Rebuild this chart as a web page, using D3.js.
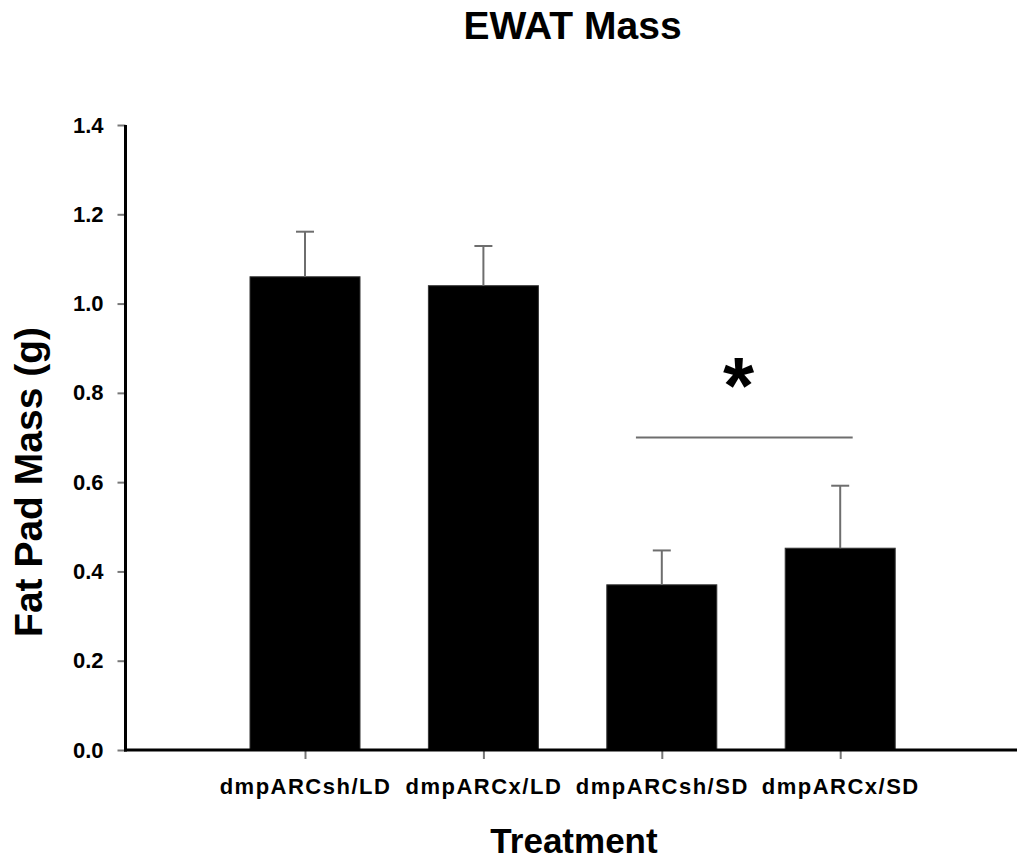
<!DOCTYPE html>
<html>
<head>
<meta charset="utf-8">
<script src="https://cdn.jsdelivr.net/npm/d3@7"></script>
<style>
  html, body { margin: 0; padding: 0; background: #fff; }
  svg { display: block; }
  text { font-family: "Liberation Sans", Arial, sans-serif; font-weight: bold; fill: #000; }
</style>
</head>
<body>
<script>
// ---- data ----
const categories = ["dmpARCsh/LD", "dmpARCx/LD", "dmpARCsh/SD", "dmpARCx/SD"];
const means = [1.06, 1.04, 0.37, 0.452];
const errors = [0.101, 0.089, 0.077, 0.140];
const yTicks = [0.0, 0.2, 0.4, 0.6, 0.8, 1.0, 1.2, 1.4];
const sigLineValue = 0.70;
const sigLineSpan = [2.855, 4.07];
const sigStarPos = [3.43, 0.84];
const titleText = "EWAT Mass";
const xLabel = "Treatment";
const yLabel = "Fat Pad Mass (g)";

const W = 1017, H = 863;
const svg = d3.select("body").append("svg").attr("width", W).attr("height", H);

const x = d3.scaleLinear().domain([0, categories.length + 1]).range([126.6, 1018.6]);
const y = d3.scaleLinear().domain([0, 1.4]).range([750, 125]);
const barW = 110;

// title
svg.append("text").attr("x", 572.5).attr("y", 39).attr("text-anchor", "middle")
  .style("font-size", "39px").text(titleText);

// bars
const data = categories.map((c, i) => ({ c, i: i + 1, m: means[i], e: errors[i] }));
svg.append("g").selectAll("rect").data(data).join("rect")
  .attr("x", d => x(d.i) - barW / 2)
  .attr("width", barW)
  .attr("y", d => y(d.m))
  .attr("height", d => y(0) - y(d.m))
  .attr("fill", "#000")
  .attr("stroke", "#333").attr("stroke-width", 1);

// error bars
const eg = svg.append("g").attr("stroke", "#6e6e6e").attr("stroke-width", 2);
eg.selectAll("line.v").data(data).join("line").attr("class", "v")
  .attr("x1", d => x(d.i)).attr("x2", d => x(d.i))
  .attr("y1", d => y(d.m)).attr("y2", d => y(d.m + d.e));
eg.selectAll("line.c").data(data).join("line").attr("class", "c")
  .attr("x1", d => x(d.i) - 9).attr("x2", d => x(d.i) + 9)
  .attr("y1", d => y(d.m + d.e)).attr("y2", d => y(d.m + d.e));

// y axis
const yAxis = d3.axisLeft(y).tickValues(yTicks).tickFormat(d3.format(".1f"))
  .tickSize(8).tickPadding(14);
const gy = svg.append("g").attr("transform", "translate(125.5,0)").call(yAxis);
gy.select(".domain").remove();
gy.selectAll(".tick line").attr("stroke", "#777").attr("stroke-width", 2);
gy.selectAll(".tick text").style("font-size", "22px")
  .style("font-family", "'Liberation Sans', Arial, sans-serif").style("font-weight", "bold");
svg.append("line").attr("x1", 125.5).attr("x2", 125.5).attr("y1", y(1.4)).attr("y2", y(0) + 1.5)
  .attr("stroke", "#000").attr("stroke-width", 3);

// x axis
const xAxis = d3.axisBottom(x).tickValues(categories.map((c, i) => i + 1))
  .tickFormat(d => categories[d - 1]).tickSize(9).tickPadding(19);
const gx = svg.append("g").attr("transform", `translate(0,${y(0)})`).call(xAxis);
gx.select(".domain").remove();
gx.selectAll(".tick line").attr("stroke", "#777").attr("stroke-width", 2);
gx.selectAll(".tick text").style("font-size", "22px").style("letter-spacing", "1.5px")
  .style("font-family", "'Liberation Sans', Arial, sans-serif").style("font-weight", "bold");
svg.append("line").attr("x1", 124).attr("x2", W).attr("y1", y(0)).attr("y2", y(0))
  .attr("stroke", "#000").attr("stroke-width", 3);

// significance
svg.append("line").attr("x1", x(sigLineSpan[0])).attr("x2", x(sigLineSpan[1]))
  .attr("y1", y(sigLineValue)).attr("y2", y(sigLineValue))
  .attr("stroke", "#6e6e6e").attr("stroke-width", 2);
svg.append("text").attr("x", x(sigStarPos[0])).attr("y", y(sigStarPos[1]) + 38)
  .attr("text-anchor", "middle").style("font-size", "80px").text("*");

// axis titles
svg.append("text").attr("x", 574).attr("y", 853).attr("text-anchor", "middle")
  .style("font-size", "35px").text(xLabel);
svg.append("text").attr("transform", "translate(42,482) rotate(-90)").attr("text-anchor", "middle")
  .style("font-size", "39px").text(yLabel);
</script>
</body>
</html>
